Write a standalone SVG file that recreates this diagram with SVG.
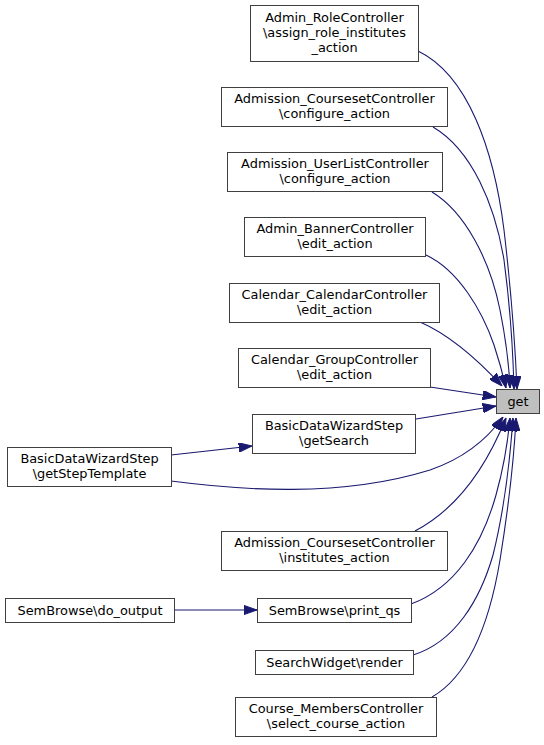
<svg xmlns="http://www.w3.org/2000/svg" width="544" height="745" viewBox="0 0 544 745">
<defs>
<style>
.n rect{fill:#ffffff;stroke:#404040;stroke-width:1}
.n text{font-family:"DejaVu Sans",sans-serif;font-size:12.9px;fill:#000;text-anchor:middle}
#get rect{fill:#bfbfbf}
.e path{fill:none;stroke:#191970;stroke-width:1.1}
</style>
<marker id="ah" viewBox="0 0 13.3 9.4" refX="13.3" refY="4.7" markerWidth="13.3" markerHeight="9.4" markerUnits="userSpaceOnUse" orient="auto">
<path d="M0,0 L13.3,4.7 L0,9.4 Z" fill="#191970" stroke="#191970" stroke-width="1"/>
</marker>
</defs>
<rect width="544" height="745" fill="#ffffff"/>
<g class="e">
<path marker-end="url(#ah)" d="M418,51 C468,75 494,150 504,230 C511,290 515,340 517,389"/>
<path marker-end="url(#ah)" d="M433,127 C472,150 495,205 504,260 C510,305 513,350 514,389"/>
<path marker-end="url(#ah)" d="M432,192 C465,212 490,260 500,310 C506,340 509,365 510,388"/>
<path marker-end="url(#ah)" d="M426,255 C458,270 482,310 494,345 C499,360 503,375 506,388"/>
<path marker-end="url(#ah)" d="M420,322 C450,335 478,360 502,386"/>
<path marker-end="url(#ah)" d="M430,387 L496,397"/>
<path marker-end="url(#ah)" d="M416,419 L496,406"/>
<path marker-end="url(#ah)" d="M171,455 L252,446"/>
<path marker-end="url(#ah)" d="M171,481 C240,490 340,498 430,470 C465,458 488,438 503,417"/>
<path marker-end="url(#ah)" d="M415,531 C455,510 485,470 506,418"/>
<path marker-end="url(#ah)" d="M411,604 C455,588 482,545 496,495 C503,470 508,440 510,418"/>
<path marker-end="url(#ah)" d="M413,655 C455,642 480,600 493,555 C503,515 510,460 513,418"/>
<path marker-end="url(#ah)" d="M432,697 C470,675 490,620 500,560 C508,510 514,460 516,418"/>
<path marker-end="url(#ah)" d="M174,610 L257,610"/>
</g>
<g id="get" class="n"><rect x="496.5" y="389.5" width="43" height="24"/><text x="518" y="406">get</text></g>
<g id="n1" class="n"><rect x="250.5" y="5.5" width="168" height="56"/><text x="334.5" y="22">Admin_RoleController</text><text x="334.5" y="37">\assign_role_institutes</text><text x="334.5" y="51.5">_action</text></g>
<g id="n2" class="n"><rect x="221.5" y="87.5" width="226" height="39"/><text x="334.5" y="103">Admission_CoursesetController</text><text x="334.5" y="117.5">\configure_action</text></g>
<g id="n3" class="n"><rect x="227.5" y="152.5" width="215" height="39"/><text x="335" y="168">Admission_UserListController</text><text x="335" y="182.5">\configure_action</text></g>
<g id="n4" class="n"><rect x="244.5" y="217.5" width="181" height="39"/><text x="335" y="233">Admin_BannerController</text><text x="335" y="247.5">\edit_action</text></g>
<g id="n5" class="n"><rect x="229.5" y="283.5" width="210" height="39"/><text x="334.5" y="299">Calendar_CalendarController</text><text x="334.5" y="313.5">\edit_action</text></g>
<g id="n6" class="n"><rect x="238.5" y="348.5" width="192" height="39"/><text x="334.5" y="364">Calendar_GroupController</text><text x="334.5" y="378.5">\edit_action</text></g>
<g id="n7" class="n"><rect x="252.5" y="414.5" width="163" height="39"/><text x="334" y="430">BasicDataWizardStep</text><text x="334" y="444.5">\getSearch</text></g>
<g id="n8" class="n"><rect x="7.5" y="447.5" width="164" height="39"/><text x="89.5" y="463">BasicDataWizardStep</text><text x="89.5" y="477.5">\getStepTemplate</text></g>
<g id="n9" class="n"><rect x="221.5" y="531.5" width="226" height="39"/><text x="334.5" y="547">Admission_CoursesetController</text><text x="334.5" y="561.5">\institutes_action</text></g>
<g id="n10" class="n"><rect x="5.5" y="598.5" width="169" height="24"/><text x="90" y="615">SemBrowse\do_output</text></g>
<g id="n11" class="n"><rect x="257.5" y="598.5" width="154" height="24"/><text x="334.5" y="615">SemBrowse\print_qs</text></g>
<g id="n12" class="n"><rect x="255.5" y="650.5" width="158" height="24"/><text x="334.5" y="667">SearchWidget\render</text></g>
<g id="n13" class="n"><rect x="235.5" y="697.5" width="201" height="39"/><text x="336" y="713">Course_MembersController</text><text x="336" y="727.5">\select_course_action</text></g>
</svg>
